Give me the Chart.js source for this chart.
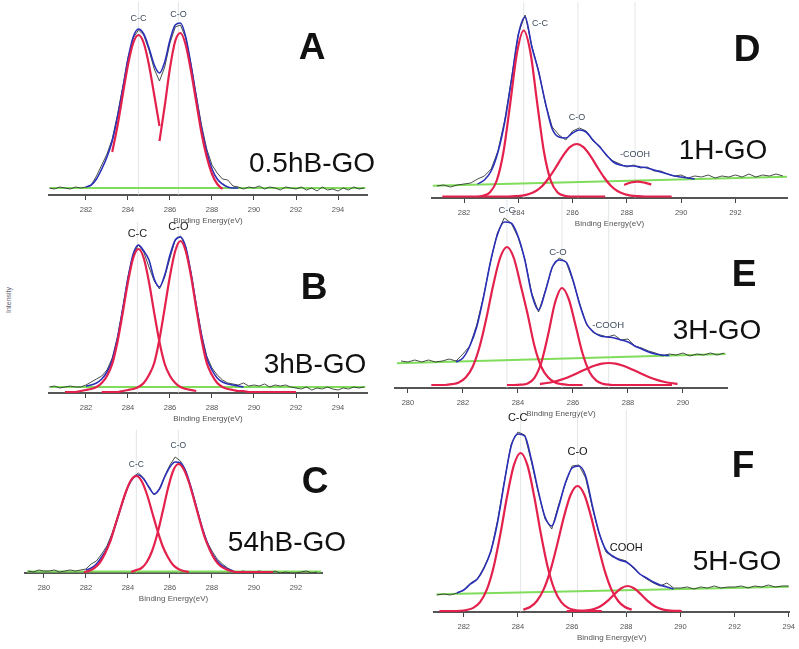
<!DOCTYPE html>
<html>
<head>
<meta charset="utf-8">
<script src="https://cdn.jsdelivr.net/npm/chart.js@4.4.1/dist/chart.umd.min.js"></script>
<style>
  body { margin: 0; width: 799px; height: 649px; background: #fff; overflow: hidden; position: relative; font-family: 'Liberation Sans', Arial, sans-serif; }
  canvas { position: absolute; }
  .tag { position: absolute; transform: translate(-50%, -50%); white-space: nowrap; color: #111; line-height: 1; }
  .letter { font-weight: bold; font-size: 37px; }
  .sample { font-size: 28px; }
  #ylab { position: absolute; left: 8px; top: 300px; transform: translate(-50%, -50%) rotate(-90deg); font-size: 7px; color: #667; }
</style>
</head>
<body>
<div id="ylab">Intensity</div>
<script>
// spectra are sampled every 0.25 eV, intensity in arbitrary units
var STEP = 0.25

var ticksAB = [282, 284, 286, 288, 290, 292, 294]
var ticksC = [280, 282, 284, 286, 288, 290, 292]
var ticksD = [282, 284, 286, 288, 290, 292]
var ticksE = [280, 282, 284, 286, 288, 290]
var ticksF = [282, 284, 286, 288, 290, 292, 294]

// A - 0.5hB-GO
var rawA = [7, 6, 8, 7, 6, 8, 7, 8, 10, 19, 30, 41, 56, 80, 108, 137, 157, 165, 160, 145,
  126, 114, 128, 152, 168, 170, 157, 131, 100, 70, 46, 30, 22, 16, 15, 9, 8, 6, 8, 7,
  9, 6, 8, 7, 5, 8, 7, 6, 8, 5, 7, 4, 8, 5, 6, 4, 7, 5, 8, 6, 7]
var fitA = [8, 10, 16, 26, 38, 54, 78, 106, 136, 158, 166, 161, 147, 130, 122, 133, 155, 170, 172, 158,
  130, 98, 67, 43, 26, 16, 11, 8, 7, 7]
var ccA = [43, 69, 100, 130, 152, 160, 152, 130, 100, 69]
var coA = [54, 89, 127, 154, 162, 150, 124, 93, 62, 38, 21, 11, 6]
var baseA = [7, 7]
var peaksA = [284.5, 286.4]

// B - 3hB-GO
var rawB = [6, 7, 5, 6, 7, 6, 6, 8, 11, 14, 17, 23, 35, 56, 85, 116, 139, 148, 141, 126,
  112, 104, 116, 135, 153, 157, 146, 120, 88, 59, 37, 25, 18, 13, 10, 9, 8, 10, 7, 8,
  7, 9, 6, 8, 7, 8, 6, 5, 4, 6, 3, 5, 4, 6, 4, 3, 5, 4, 6, 5, 6]
var fitB = [7, 8, 10, 14, 21, 33, 55, 84, 115, 139, 148, 142, 133, 114, 106, 118, 138, 153, 156, 146,
  120, 88, 58, 35, 23, 15, 11, 9, 8, 7, 6]
var ccB = [1, 1, 1, 2, 3, 4, 6, 10, 17, 29, 51, 80, 111, 135, 144, 135, 111, 80, 51, 29,
  17, 10, 6, 4, 3, 2]
var coB = [1, 1, 1, 1, 2, 3, 4, 6, 10, 18, 30, 54, 85, 117, 142, 152, 142, 117, 85, 54,
  30, 18, 10, 6, 4, 3, 2, 2, 1, 1, 1, 1, 1, 1, 1, 1, 1, 1]
var baseB = [6, 6]
var peaksB = [284.45, 286.4]

// C - 54hB-GO
var rawC = [2, 1, 3, 2, 2, 3, 1, 2, 3, 2, 3, 4, 9, 12, 19, 27, 40, 56, 72, 87,
  96, 100, 95, 85, 78, 84, 97, 108, 116, 112, 102, 85, 66, 47, 32, 22, 14, 9, 5, 2,
  1, 2, 0, 1, 2, 1, 0, 2, 0, 1, 0, 0, 1, 2, 0, 1]
var fitC = [3, 5, 9, 16, 25, 38, 54, 71, 86, 95, 98, 94, 86, 79, 84, 96, 106, 111, 110, 102,
  86, 67, 48, 32, 20, 12, 7, 4, 2]
var ccC = [1, 2, 5, 10, 19, 31, 48, 65, 81, 93, 97, 92, 79, 61, 43, 27, 16, 8, 4, 2, 1]
var coC = [1, 3, 5, 11, 22, 39, 61, 84, 102, 109, 104, 91, 73, 54, 36, 23, 13, 7, 4, 2,
  1, 1, 1, 1, 1, 1, 1, 1]
var baseC = [1.5, 1.5]
var peaksC = [284.4, 286.4]

// D - 1H-GO
var rawD = [12, 13, 11, 13, 14, 15, 19, 22, 29, 47, 78, 120, 164, 183, 152, 127, 94, 71, 63, 58,
  67, 70, 67, 57, 52, 42, 37, 34, 31, 33, 30, 31, 27, 27, 24, 22, 23, 20, 22, 21,
  23, 20, 22, 21, 23, 21, 24, 21, 23, 22, 24, 22]
var fitD = [14, 18, 27, 46, 76, 118, 163, 181, 151, 126, 95, 69, 61, 60, 65, 68, 66, 58, 51, 43,
  36, 33, 32, 32, 31, 30, 28, 26, 24, 22, 21, 20, 19]
var ccD = [1.5, 1.5, 1.5, 1.5, 1.5, 1.5, 2.3, 5.6, 17, 45.5, 94, 145, 167.5, 145, 94, 45.5, 17, 5.6, 2.3, 1.5,
  1.5, 1.5, 1.5, 1.5, 1.5]
var coD = [1.5, 1.5, 1.5, 1.5, 1.5, 1.8, 2.4, 4, 7, 12.5, 21, 31.4, 42.4, 50.8, 54, 50.8, 42.4, 31.4, 21, 12.5,
  7, 4, 2.4, 1.8, 1.5, 1.5, 1.5, 1.5, 1.5]
var coohD = [13, 15.5, 16.3, 15.3, 13.5]
var baseD = [12.3, 21.3]
var peaksD = [284.2, 286.2, 288.3]

// E - 3H-GO
var rawE = [27, 26, 28, 26, 28, 26, 27, 29, 27, 34, 42, 63, 92, 126, 155, 170, 165, 151, 129, 95,
  76, 98, 121, 130, 126, 107, 84, 63, 55, 53, 51, 53, 48, 49, 42, 40, 37, 35, 32, 34,
  33, 35, 32, 34, 33, 35, 33, 35]
var fitE = [26, 30, 42, 61, 91, 126, 153, 166, 165, 152, 128, 94, 78, 97, 121, 128, 126, 108, 83, 64,
  56, 52, 51, 50, 48, 46, 42, 39, 36, 34, 33, 32.5]
var ccE = [3, 3, 3, 3.8, 5.6, 10.5, 21, 40.7, 69.5, 102.8, 130, 141, 130, 102.8, 74, 42, 21, 10.5, 5.6, 3.8,
  3, 3, 3]
var coE = [3, 3, 3.3, 4.6, 10.2, 25.5, 53.7, 85.5, 100, 88.6, 61.9, 34.5, 16.1, 7.3, 4.1, 3.2, 3, 3, 3, 3,
  3, 3, 3, 3, 3]
var coohE = [4.1, 5, 6.3, 8.1, 10.5, 13.5, 16.7, 19.8, 22.5, 24.4, 25, 24.4, 22.5, 19.8, 16.7, 13.5, 10.5, 8.1, 6.3, 5,
  4.1]
var baseE = [24.7, 34]
var peaksE = [283.6, 285.6, 287.3]

// F - 5H-GO
var rawF = [17, 18, 17, 19, 22, 29, 33, 45, 60, 92, 131, 168, 180, 177, 150, 120, 93, 83, 107, 128,
  146, 147, 134, 104, 78, 60, 55, 53, 51, 44, 38, 33, 29, 26, 29, 24, 24, 25, 23, 25,
  24, 26, 24, 25, 25, 26, 24, 26, 25, 27, 25, 26, 26]
var fitF = [19, 22, 28, 33, 44, 61, 90, 130, 166, 178, 176, 152, 121, 95, 86, 105, 129, 144, 146, 136,
  106, 79, 62, 56, 52, 50, 45, 38, 34, 30, 27, 25, 23]
var ccF = [1, 1, 1, 1.2, 2, 4.1, 9.8, 22.3, 44.8, 77.8, 115.7, 146.8, 159, 146.8, 115.7, 77.8, 44.8, 22.3, 9.8, 4.1,
  2, 1.2, 1, 1, 1]
var coF = [2.4, 5, 11, 22.6, 41.6, 67.4, 95.4, 117.5, 126, 117.5, 95.4, 67.4, 41.6, 22.6, 11, 5, 2.4]
var coohF = [1, 1, 1.15, 1.6, 2.9, 5.7, 10.8, 17.5, 23.5, 26, 23.5, 17.5, 10.8, 5.7, 2.9, 1.6, 1.15, 1]
var baseF = [17.7, 25.3]
var peaksF = [284.1, 286.2, 288.0]

var RED = '#e3214c'
var BLUE = '#2a2fb8'
var GREEN = '#80dd5c'
var RAW = '#333b33'
var FONT = "'Liberation Sans', Arial, sans-serif"

// box = [plot left, plot top, plot width, plot height] in page pixels
var panels = [
  {
    letter: 'A', name: '0.5hB-GO', box: [49, 2, 318, 193], range: [280.24, 295.38], ticks: ticksAB,
    raw: [280.25, rawA], fit: [282, fitA], comps: [[283.25, ccA], [285.5, coA]],
    base: [[280.3, 295.3], baseA], guides: peaksA,
    labels: [['C-C', 284.5, 176], ['C-O', 286.4, 180]], labelSize: 9, labelColor: '#3d4b5c',
    letterAt: [312, 46], nameAt: [312, 163],
  },
  {
    letter: 'B', name: '3hB-GO', box: [49, 222, 318, 171], range: [280.24, 295.38], ticks: ticksAB,
    raw: [280.25, rawB], fit: [282, fitB], comps: [[281, ccB], [282.75, coB]],
    base: [[280.3, 295.3], baseB], guides: peaksB,
    labels: [['C-C', 284.45, 159], ['C-O', 286.4, 166]], labelSize: 11, labelColor: '#222',
    letterAt: [314, 286], nameAt: [315, 364],
  },
  {
    letter: 'C', name: '54hB-GO', box: [25, 430, 297, 143], range: [279.1, 293.24], ticks: ticksC,
    raw: [279.25, rawC], fit: [282, fitC], comps: [[281.9, ccC], [284.15, coC]],
    base: [[279.2, 293.2], baseC], guides: peaksC,
    labels: [['C-C', 284.4, 108], ['C-O', 286.4, 127]], labelSize: 8.5, labelColor: '#3d4b5c',
    letterAt: [315, 480], nameAt: [287, 542],
  },
  {
    letter: 'D', name: '1H-GO', box: [432, 2, 355, 196], range: [280.82, 293.9], ticks: ticksD,
    raw: [281, rawD], fit: [282.5, fitD], comps: [[281.2, ccD], [282.65, coD], [287.9, coohD]],
    base: [[280.85, 293.9], baseD], guides: peaksD,
    labels: [['C-C', 284.8, 174], ['C-O', 286.16, 80], ['-COOH', 288.3, 43]], labelSize: 9, labelColor: '#3d4b5c',
    letterAt: [747, 48], nameAt: [723, 150],
  },
  {
    letter: 'E', name: '3H-GO', box: [395, 200, 332, 188], range: [279.53, 291.6], ticks: ticksE,
    raw: [279.75, rawE], fit: [281.75, fitE], comps: [[280.85, ccE], [283.6, coE], [284.8, coohE]],
    base: [[279.6, 291.55], baseE], guides: peaksE,
    labels: [['C-C', 283.6, 178], ['C-O', 285.45, 136], ['-COOH', 287.28, 63]], labelSize: 9.5, labelColor: '#3d4b5c',
    letterAt: [744, 273], nameAt: [717, 330],
  },
  {
    letter: 'F', name: '5H-GO', box: [434, 410, 356, 202], range: [280.9, 294.02], ticks: ticksF,
    raw: [281, rawF], fit: [281.75, fitF], comps: [[281.1, ccF], [284.2, coF], [285.8, coohF]],
    base: [[281, 294], baseF], guides: peaksF,
    labels: [['C-C', 283.99, 194], ['C-O', 286.2, 160], ['COOH', 288.0, 64]], labelSize: 11, labelColor: '#111',
    letterAt: [743, 464], nameAt: [737, 561],
  },
]

function toPoints(start, values) {
  return values.map(function (v, i) {
    return { x: start + i * STEP, y: v }
  })
}

var peakLabels = {
  id: 'peakLabels',
  afterDatasetsDraw: function (chart, args, opts) {
    var ctx = chart.ctx
    var x = chart.scales.x
    var y = chart.scales.y
    ctx.save()
    ctx.font = opts.size + 'px ' + FONT
    ctx.fillStyle = opts.color
    ctx.textAlign = 'center'
    ctx.textBaseline = 'middle'
    opts.items.forEach(function (it) {
      ctx.fillText(it[0], x.getPixelForValue(it[1]), y.getPixelForValue(it[2]))
    })
    ctx.restore()
  },
}

function addTag(cls, text, at) {
  var div = document.createElement('div')
  div.className = 'tag ' + cls
  div.textContent = text
  div.style.left = at[0] + 'px'
  div.style.top = at[1] + 'px'
  document.body.appendChild(div)
}

function drawPanel(p) {
  var axisH = 36
  var pad = 10
  var canvas = document.createElement('canvas')
  canvas.width = p.box[2] + 2 * pad
  canvas.height = p.box[3] + axisH
  canvas.style.left = p.box[0] - pad + 'px'
  canvas.style.top = p.box[1] + 'px'
  document.body.appendChild(canvas)

  var yMax = p.box[3]
  var datasets = []
  p.comps.forEach(function (c) {
    datasets.push({ data: toPoints(c[0], c[1]), borderColor: RED, borderWidth: 2.2, cubicInterpolationMode: 'monotone' })
  })
  datasets.push({ data: toPoints(p.fit[0], p.fit[1]), borderColor: BLUE, borderWidth: 1.6, cubicInterpolationMode: 'monotone' })
  datasets.push({ data: toPoints(p.raw[0], p.raw[1]), borderColor: RAW, borderWidth: 0.9 })
  datasets.push({
    data: [{ x: p.base[0][0], y: p.base[1][0] }, { x: p.base[0][1], y: p.base[1][1] }],
    borderColor: GREEN, borderWidth: 2,
  })
  p.guides.forEach(function (e) {
    datasets.push({ data: [{ x: e, y: 0 }, { x: e, y: yMax }], borderColor: '#d6dbe0', borderWidth: 0.7 })
  })

  new Chart(canvas, {
    type: 'line',
    data: { datasets: datasets },
    options: {
      responsive: false,
      animation: false,
      devicePixelRatio: 1,
      layout: { padding: { left: pad, right: pad, top: 0, bottom: 0 } },
      elements: { point: { radius: 0 }, line: { fill: false } },
      plugins: {
        legend: { display: false },
        tooltip: { enabled: false },
        peakLabels: { items: p.labels, size: p.labelSize, color: p.labelColor },
      },
      scales: {
        x: {
          type: 'linear',
          min: p.range[0],
          max: p.range[1],
          afterBuildTicks: function (s) {
            s.ticks = p.ticks.map(function (v) { return { value: v } })
          },
          afterFit: function (s) {
            s.height = axisH
          },
          grid: { drawOnChartArea: false, drawTicks: true, tickLength: 5, color: '#444', lineWidth: 1 },
          border: { display: true, color: '#555', width: 2 },
          ticks: { font: { family: FONT, size: 7.5 }, color: '#555', padding: 5, maxRotation: 0, autoSkip: false },
          title: {
            display: true,
            text: 'Binding Energy(eV)',
            font: { family: FONT, size: 8 },
            color: '#555',
            padding: { top: 0, bottom: 5 },
          },
        },
        y: { display: false, min: 0, max: yMax },
      },
    },
    plugins: [peakLabels],
  })

  addTag('letter', p.letter, p.letterAt)
  addTag('sample', p.name, p.nameAt)
}

panels.forEach(drawPanel)
</script>
</body>
</html>
